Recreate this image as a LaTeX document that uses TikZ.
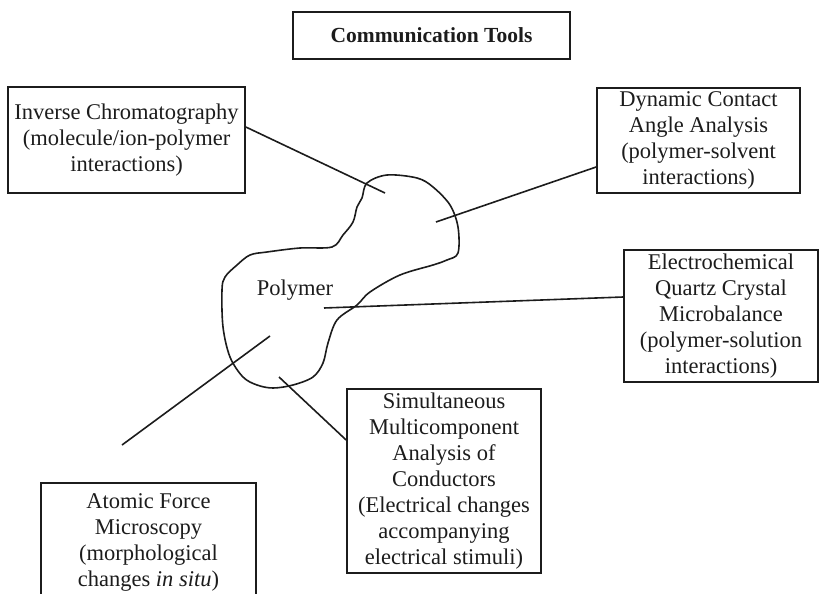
\documentclass[tikz,border=0pt]{standalone}
\usepackage{fontspec}
\setmainfont{Liberation Serif}
\definecolor{ink}{HTML}{1C1C1C}
\newcommand{\boxfont}{\fontsize{22.5}{26}\selectfont}
\begin{document}
\begin{tikzpicture}[x=1pt,y=-1pt,
  toolbox/.style={draw=ink, line width=1.7pt, align=center, inner sep=0pt,
    text=ink, font=\boxfont},
  link/.style={draw=ink, line width=1.6pt},
  blob/.style={draw=ink, line width=1.6pt},
]
\useasboundingbox (0,0) rectangle (822,594);
\clip (0,0) rectangle (822,594);

% title
\node[toolbox, minimum width=277pt, minimum height=47pt,
  font=\bfseries\fontsize{21.5}{26}\selectfont] (title) at (431.5,35.5) {Communication Tools};

% the polymer outline
\draw[blob] plot[smooth cycle, tension=0.55] coordinates {
  (367,183) (387,175) (417,178) (433,187) (450,205) (458,227) (458,253)
  (447,260) (433,265) (400,275) (370,292) (357,305) (337,320) (328,343)
  (323,363) (313,377) (293,385) (273,388) (257,385) (243,377) (230,357)
  (223,327) (222,290) (225,277) (237,265) (250,255) (267,252) (300,248)
  (332,247) (343,235) (353,222) (357,207) (362,198)};
\node[text=ink, font=\boxfont] (poly) at (295,290) {Polymer};

% technique boxes
\node[toolbox, minimum width=237pt, minimum height=106pt] (inv) at (126.5,140)
  {Inverse Chromatography\\(molecule/ion-polymer\\interactions)};
\node[toolbox, minimum width=203pt, minimum height=105pt] (dca) at (698.5,140.5)
  {Dynamic Contact\\Angle Analysis\\(polymer-solvent\\interactions)};
\node[toolbox, minimum width=194pt, minimum height=132pt] (eqcm) at (721,316)
  {Electrochemical\\Quartz Crystal\\Microbalance\\(polymer-solution\\interactions)};
\node[toolbox, minimum width=194pt, minimum height=184pt] (smac) at (444,481)
  {Simultaneous\\Multicomponent\\Analysis of\\Conductors\\(Electrical changes\\accompanying\\electrical stimuli)};
\node[toolbox, minimum width=215pt, minimum height=120pt, anchor=north] (afm) at (148.5,482)
  {Atomic Force\\Microscopy\\(morphological\\changes \textit{in situ})};

% ends of the connectors inside the polymer
\coordinate (pinv) at (385,193);
\coordinate (pdca) at (436,222);
\coordinate (peqcm) at (324,308);
\coordinate (psmac) at (279,377);
\coordinate (pafm) at (270,336);
\coordinate (afmend) at (122,445);

\draw[link] ([yshift=13pt]inv.east) -- (pinv);
\draw[link] ([yshift=-26.5pt]dca.west) -- (pdca);
\draw[link] ([yshift=19pt]eqcm.west) -- (peqcm);
\draw[link] ([yshift=41pt]smac.west) -- (psmac);
\draw[link] (pafm) -- (afmend);
\end{tikzpicture}
\end{document}
